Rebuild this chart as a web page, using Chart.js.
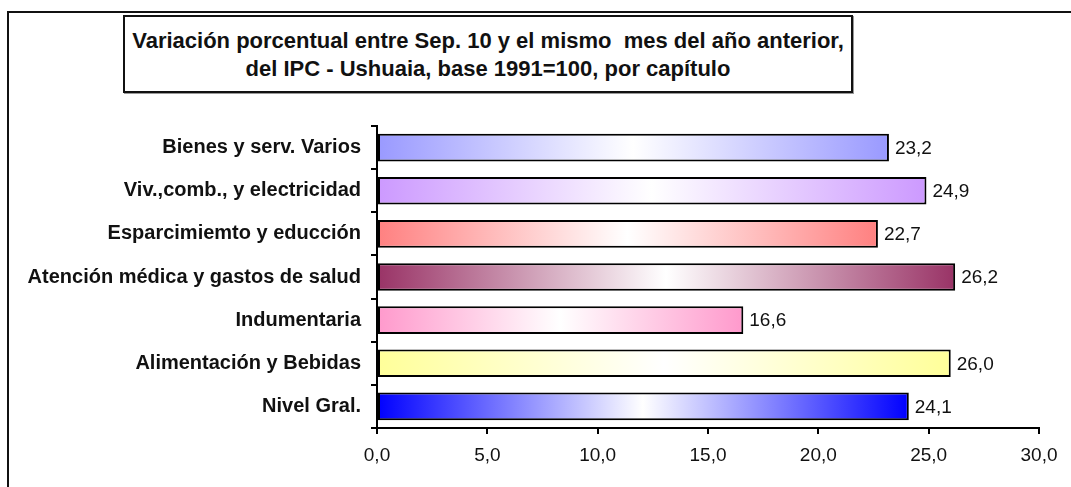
<!DOCTYPE html>
<html>
<head>
<meta charset="utf-8">
<script src="https://cdn.jsdelivr.net/npm/chart.js@4"></script>
<style>
  html, body { margin: 0; padding: 0; background: #fff; }
  #wrap { position: relative; width: 1071px; height: 487px; overflow: hidden; }
  #marco { position: absolute; left: 7px; top: 11px; width: 1080px; height: 500px;
           border-left: 2px solid #111; border-top: 2px solid #111; }
  #titulo { position: absolute; left: 123px; top: 15px; width: 726px; height: 64px;
            border: 2px solid #111; box-shadow: 1px 1px 0 #999;
            font: bold 22px "Liberation Sans", Arial, sans-serif; color: #111;
            text-align: center; line-height: 28px; padding-top: 10px; }
  canvas { position: absolute; left: 0; top: 0; }
</style>
</head>
<body>
<div id="wrap">
  <div id="marco"></div>
  <div id="titulo">Variación porcentual entre Sep. 10 y el mismo&nbsp; mes del año anterior,<br>del IPC - Ushuaia, base 1991=100, por capítulo</div>
  <canvas id="chartIPC" width="1071" height="487"></canvas>
</div>
<script>
"use strict";

var capitulos = ['Bienes y serv. Varios', 'Viv.,comb., y electricidad', 'Esparcimiemto y educción',
                 'Atención médica y gastos de salud', 'Indumentaria', 'Alimentación y Bebidas', 'Nivel Gral.'];
var variaciones = [23.2, 24.9, 22.7, 26.2, 16.6, 26.0, 24.1];
var colores = ['#9999ff', '#cc99ff', '#ff8080', '#993366', '#ff99cc', '#ffff99', '#0000ff'];
var ticksX = [0, 5, 10, 15, 20, 25, 30];

function coma(v) { return v.toFixed(1).replace('.', ','); }

// degradado horizontal: color - blanco - color
function relleno(ctx) {
  var chart = ctx.chart;
  var base = colores[ctx.dataIndex];
  if (!chart.chartArea || ctx.parsed === undefined) return base;
  var sx = chart.scales.x;
  var x0 = sx.getPixelForValue(0);
  var x1 = sx.getPixelForValue(ctx.parsed.x);
  if (!isFinite(x0) || !isFinite(x1) || x1 - x0 < 2) return base;
  var g = chart.ctx.createLinearGradient(x0, 0, x1, 0);
  g.addColorStop(0, base);
  g.addColorStop(0.5, '#ffffff');
  g.addColorStop(1, base);
  return g;
}

var etiquetas = {
  id: 'etiquetas',
  afterDatasetsDraw: function (chart) {
    var c = chart.ctx;
    var meta = chart.getDatasetMeta(0);
    c.save();
    c.font = '19px "Liberation Sans", Arial, sans-serif';
    c.fillStyle = '#111';
    c.textAlign = 'left';
    c.textBaseline = 'middle';
    meta.data.forEach(function (bar, i) {
      c.fillText(coma(variaciones[i]), bar.x + 6, bar.y + 1);
    });
    c.restore();
  }
};

new Chart(document.getElementById('chartIPC'), {
  type: 'bar',
  data: {
    labels: capitulos,
    datasets: [{
      data: variaciones,
      backgroundColor: relleno,
      borderColor: '#000',
      borderWidth: 2,
      borderSkipped: false,
      categoryPercentage: 1,
      barPercentage: 0.64
    }]
  },
  options: {
    indexAxis: 'y',
    responsive: false,
    animation: false,
    layout: { padding: { top: 126, right: 32, bottom: 0, left: 0 } },
    plugins: { legend: { display: false }, tooltip: { enabled: false }, title: { display: false } },
    scales: {
      x: {
        min: 0, max: 30,
        afterBuildTicks: function (axis) { axis.ticks = ticksX.map(function (v) { return { value: v }; }); },
        afterFit: function (axis) { axis.height = 59; },
        grid: { drawOnChartArea: false, drawTicks: true, tickLength: 6, color: '#000', lineWidth: 2 },
        border: { color: '#000', width: 2 },
        ticks: {
          padding: 10,
          color: '#111',
          font: { family: '"Liberation Sans", Arial, sans-serif', size: 19 },
          callback: function (v) { return coma(v); }
        }
      },
      y: {
        afterFit: function (axis) { axis.width = 377; },
        grid: { drawOnChartArea: false, drawTicks: true, tickLength: 6, color: '#000', lineWidth: 2, offset: true },
        border: { color: '#000', width: 2 },
        ticks: {
          padding: 10,
          color: '#111',
          font: { family: '"Liberation Sans", Arial, sans-serif', size: 20, weight: 'bold' }
        }
      }
    }
  },
  plugins: [etiquetas]
});
</script>
</body>
</html>
